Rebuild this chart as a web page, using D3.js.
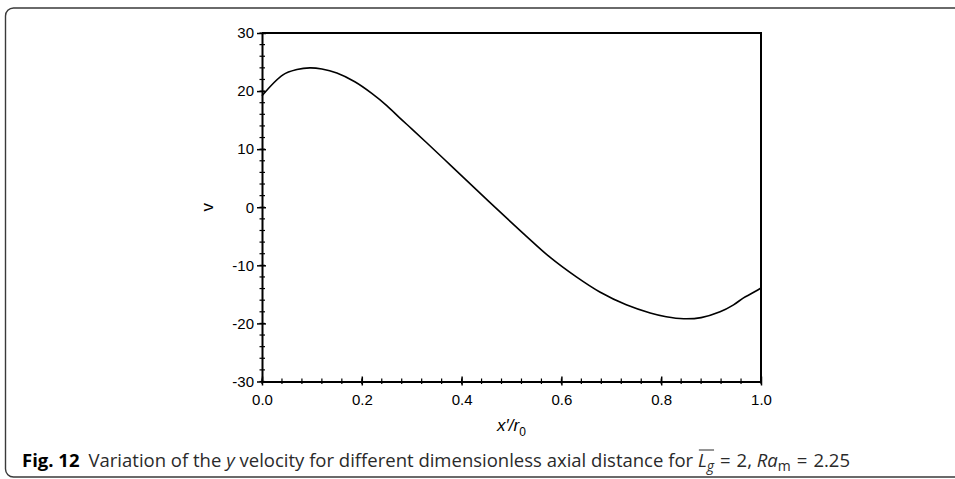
<!DOCTYPE html>
<html lang="en">
<head>
  <meta charset="UTF-8">
  <title>Fig. 12 y velocity</title>
  <style>
    body { margin: 0; background: #fff; }
    svg { display: block; }
    .tick text { font-family: "Liberation Sans", Arial, sans-serif; font-size: 15px; fill: #000; }
    .caption { font-family: "Open Sans", sans-serif; font-size: 18.5px; fill: #2a2a2a; }
  </style>
</head>
<body>
  <svg id="chart" width="955" height="479"></svg>
  <script src="https://d3js.org/d3.v7.min.js"></script>
  <script>
    // values: x'/r0 against v
    const xPos = [0, 0.042, 0.07, 0.096, 0.12, 0.15, 0.186, 0.22, 0.25, 0.277, 0.3, 0.33, 0.377, 0.43, 0.477,
                  0.53, 0.577, 0.63, 0.677, 0.73, 0.778, 0.81, 0.845, 0.88, 0.918, 0.945, 0.965, 0.98, 1.0];
    const vel  = [19.2, 22.8, 23.7, 24.0, 23.8, 23.1, 21.6, 19.6, 17.5, 15.3, 13.5, 11.1, 7.3, 3.0, -0.8,
                  -5.0, -8.6, -12.0, -14.6, -16.8, -18.2, -18.85, -19.2, -19.0, -18.0, -16.8, -15.6, -14.9, -13.9];
    const xTicks = [0, 0.2, 0.4, 0.6, 0.8, 1.0];
    const yTicks = [-30, -20, -10, 0, 10, 20, 30];

    const plotLeft = 262, plotRight = 761, plotTop = 33, plotBottom = 381.5;

    const svg = d3.select('#chart');

    // card border with rounded corner
    svg.append('rect')
      .attr('x', 5.5).attr('y', 8).attr('width', 1000).attr('height', 469)
      .attr('rx', 8)
      .attr('fill', 'none').attr('stroke', '#3a3a3a').attr('stroke-width', 1.4);

    const x = d3.scaleLinear().domain([0, 1]).range([plotLeft, plotRight]);
    const y = d3.scaleLinear().domain([-30, 30]).range([plotBottom, plotTop]);

    // minor ticks
    const xMinor = d3.range(0, 1.0001, 0.04);
    const yMinor = d3.range(-30, 30.001, 2);

    svg.append('g')
      .selectAll('line')
      .data(xMinor)
      .join('line')
        .attr('x1', d => x(d)).attr('x2', d => x(d))
        .attr('y1', plotBottom - 3).attr('y2', plotBottom + 2.5)
        .attr('stroke', '#000').attr('stroke-width', 1.2);

    svg.append('g')
      .selectAll('line')
      .data(yMinor)
      .join('line')
        .attr('y1', d => y(d)).attr('y2', d => y(d))
        .attr('x1', plotLeft - 2.5).attr('x2', plotLeft + 3)
        .attr('stroke', '#000').attr('stroke-width', 1.2);

    // axes
    const xAxis = svg.append('g')
      .attr('transform', `translate(0,${plotBottom})`)
      .call(d3.axisBottom(x).tickValues(xTicks).tickFormat(d3.format('.1f')).tickSizeInner(4).tickSizeOuter(0).tickPadding(9));
    xAxis.selectAll('.tick line').attr('y1', -5).attr('stroke-width', 1.5);
    xAxis.select('.domain').attr('stroke-width', 2);

    const yAxis = svg.append('g')
      .attr('transform', `translate(${plotLeft},0)`)
      .call(d3.axisLeft(y).tickValues(yTicks).tickFormat(d => String(d)).tickSizeInner(5).tickSizeOuter(0).tickPadding(3));
    yAxis.selectAll('.tick line').attr('x1', 4).attr('stroke-width', 1.5);
    yAxis.select('.domain').attr('stroke-width', 2);

    // frame top and right
    svg.append('path')
      .attr('d', `M${plotLeft},${plotTop}H${plotRight}V${plotBottom}`)
      .attr('fill', 'none').attr('stroke', '#000').attr('stroke-width', 2);

    // curve
    const data = xPos.map((d, i) => [d, vel[i]]);
    svg.append('path')
      .datum(data)
      .attr('fill', 'none').attr('stroke', '#000').attr('stroke-width', 1.6)
      .attr('d', d3.line().x(d => x(d[0])).y(d => y(d[1])).curve(d3.curveCatmullRom.alpha(0.5)));

    // axis titles
    svg.append('text')
      .attr('transform', `translate(213,${y(0)}) rotate(-90)`)
      .attr('text-anchor', 'middle')
      .attr('font-family', '"Liberation Sans", Arial, sans-serif')
      .attr('font-size', 17)
      .text('v');

    const xt = svg.append('text')
      .attr('x', x(0.5)).attr('y', 431)
      .attr('text-anchor', 'middle')
      .attr('font-family', '"Liberation Sans", Arial, sans-serif')
      .attr('font-size', 17).attr('font-style', 'italic');
    xt.append('tspan').text('x′/r');
    xt.append('tspan').attr('dy', 5).attr('font-size', 12).attr('font-style', 'normal').text('0');

    // caption
    const cap = svg.append('text').attr('class', 'caption').attr('x', 22).attr('y', 467);
    cap.append('tspan').attr('font-weight', 'bold').attr('fill', '#000').text('Fig. 12');
    cap.append('tspan').attr('dx', 9).text('Variation of the ');
    cap.append('tspan').attr('font-style', 'italic').text('y');
    cap.append('tspan').text(' velocity for different dimensionless axial distance for ');
    const tL = cap.append('tspan').attr('font-style', 'italic').text('L');
    const tG = cap.append('tspan').attr('font-style', 'italic').attr('font-size', 14).attr('dy', 4).text('g');
    cap.append('tspan').attr('dy', -4).attr('dx', 6).text('=');
    cap.append('tspan').attr('dx', 6).text('2, ');
    cap.append('tspan').attr('font-style', 'italic').text('Ra');
    cap.append('tspan').attr('font-size', 14).attr('dy', 4).text('m');
    cap.append('tspan').attr('dy', -4).attr('dx', 6).text('=');
    cap.append('tspan').attr('dx', 6).text('2.25');

    // overline over L_g
    const x0 = tL.node().getStartPositionOfChar(0).x;
    const x1 = tG.node().getEndPositionOfChar(0).x;
    svg.append('line')
      .attr('x1', x0 + 1).attr('x2', x1)
      .attr('y1', 450).attr('y2', 450)
      .attr('stroke', '#2a2a2a').attr('stroke-width', 1);
  </script>
</body>
</html>
